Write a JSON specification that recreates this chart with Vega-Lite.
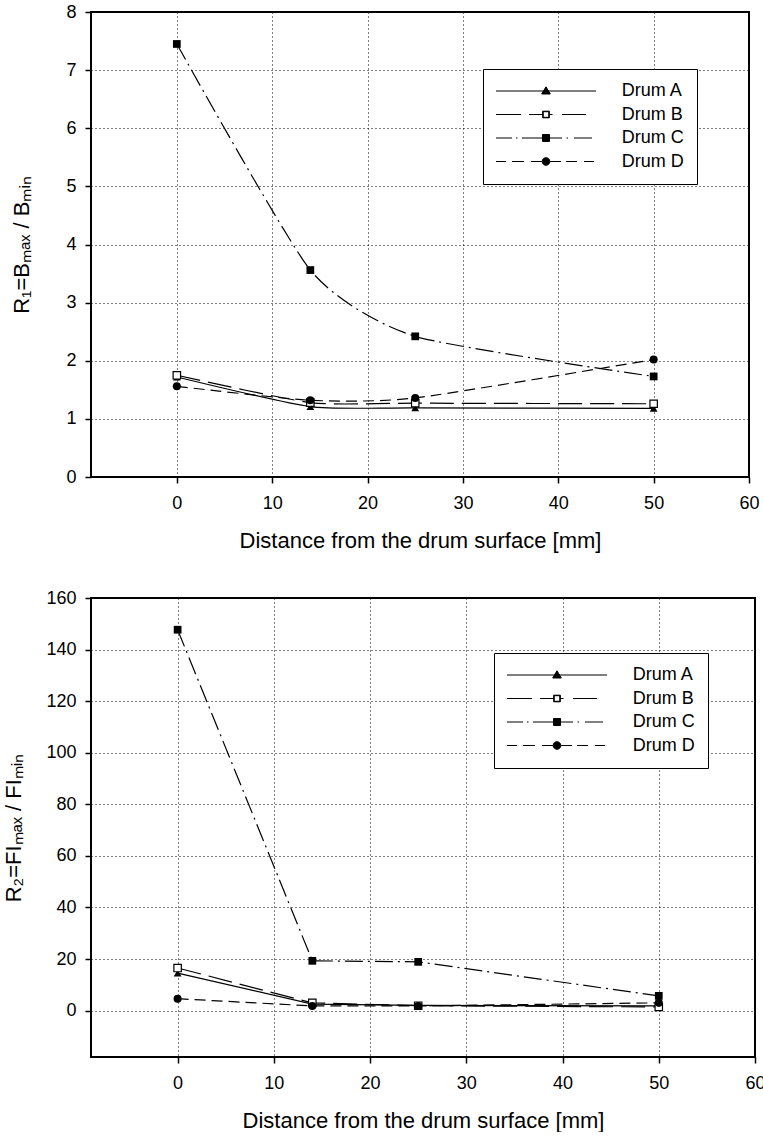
{
  "$schema": "https://vega.github.io/schema/vega-lite/v6.json",
  "padding": {"left": 1, "top": 2, "right": 0, "bottom": 0},
  "background": "white",
  "spacing": 36,
  "config": {
    "font": "Liberation Sans",
    "view": {"stroke": "black", "strokeWidth": 2},
    "axis": {
      "domain": false,
      "grid": true,
      "gridColor": "black",
      "gridDash": [1, 3],
      "gridWidth": 1,
      "gridOpacity": 1,
      "tickColor": "black",
      "tickSize": 6,
      "tickWidth": 1.5,
      "labelColor": "black",
      "labelFont": "Liberation Sans",
      "labelFontSize": 18,
      "titleFont": "Liberation Sans",
      "titleFontSize": 22,
      "titleFontWeight": "normal",
      "titleColor": "black"
    },
    "axisX": {"labelPadding": 11, "titlePadding": 18, "labelFlush": false},
    "axisY": {"labelPadding": 9},
    "legend": {
      "symbolSize": 4,
      "symbolStrokeWidth": 1,
      "symbolStrokeColor": "black",
      "symbolFillColor": "black",
      "symbolOpacity": 1,
      "symbolOffset": 41,
      "labelOffset": 66.7,
      "labelFont": "Liberation Sans",
      "labelFontSize": 18,
      "labelColor": "black",
      "padding": 13,
      "rowPadding": 5.5,
      "strokeColor": "black",
      "fillColor": "white"
    }
  },
  "datasets": {
    "r1": [
      {"drum": "Drum A", "x": 0, "y": 1.72},
      {"drum": "Drum A", "x": 14, "y": 1.21},
      {"drum": "Drum A", "x": 25, "y": 1.19},
      {"drum": "Drum A", "x": 50, "y": 1.18},
      {"drum": "Drum B", "x": 0, "y": 1.75},
      {"drum": "Drum B", "x": 14, "y": 1.28},
      {"drum": "Drum B", "x": 25, "y": 1.27},
      {"drum": "Drum B", "x": 50, "y": 1.26},
      {"drum": "Drum C", "x": 0, "y": 7.45},
      {"drum": "Drum C", "x": 14, "y": 3.56},
      {"drum": "Drum C", "x": 25, "y": 2.42},
      {"drum": "Drum C", "x": 50, "y": 1.73},
      {"drum": "Drum D", "x": 0, "y": 1.56},
      {"drum": "Drum D", "x": 14, "y": 1.32},
      {"drum": "Drum D", "x": 25, "y": 1.36},
      {"drum": "Drum D", "x": 50, "y": 2.02}
    ],
    "r2": [
      {"drum": "Drum A", "x": 0, "y": 14.5},
      {"drum": "Drum A", "x": 14, "y": 2.5},
      {"drum": "Drum A", "x": 25, "y": 2.0},
      {"drum": "Drum A", "x": 50, "y": 1.8},
      {"drum": "Drum B", "x": 0, "y": 16.5},
      {"drum": "Drum B", "x": 14, "y": 3.0},
      {"drum": "Drum B", "x": 25, "y": 1.9},
      {"drum": "Drum B", "x": 50, "y": 1.4},
      {"drum": "Drum C", "x": 0, "y": 147.7},
      {"drum": "Drum C", "x": 14, "y": 19.3},
      {"drum": "Drum C", "x": 25, "y": 18.9},
      {"drum": "Drum C", "x": 50, "y": 5.7},
      {"drum": "Drum D", "x": 0, "y": 4.6},
      {"drum": "Drum D", "x": 14, "y": 1.8},
      {"drum": "Drum D", "x": 25, "y": 1.8},
      {"drum": "Drum D", "x": 50, "y": 3.0}
    ]
  },
  "vconcat": [
    {
      "width": 658,
      "height": 465,
      "data": {"name": "r1"},
      "encoding": {
        "x": {"field": "x", "type": "quantitative", "scale": {"domain": [-9, 60], "nice": false, "zero": false}, "axis": {"values": [0, 10, 20, 30, 40, 50, 60], "title": "Distance from the drum surface [mm]"}},
        "y": {"field": "y", "type": "quantitative", "scale": {"domain": [0, 8], "nice": false}, "axis": {"values": [0, 1, 2, 3, 4, 5, 6, 7, 8], "title": "R₁=Bₘₐₓ / Bₘᵢₙ", "titlePadding": 32}}
      },
      "layer": [
        {"transform": [{"filter": "datum.drum == 'Drum A'"}], "mark": {"type": "line", "interpolate": "cardinal", "tension": 0.4, "color": "black", "strokeWidth": 1.2}},
        {"transform": [{"filter": "datum.drum == 'Drum B'"}], "mark": {"type": "line", "interpolate": "cardinal", "tension": 0.4, "color": "black", "strokeWidth": 1.2, "strokeDash": [24, 8]}},
        {"transform": [{"filter": "datum.drum == 'Drum C'"}], "mark": {"type": "line", "interpolate": "cardinal", "tension": 0.4, "color": "black", "strokeWidth": 1.2, "strokeDash": [18, 5, 2, 5]}},
        {"transform": [{"filter": "datum.drum == 'Drum D'"}], "mark": {"type": "line", "interpolate": "cardinal", "tension": 0.4, "color": "black", "strokeWidth": 1.2, "strokeDash": [11, 6]}},
        {"mark": {"type": "point", "opacity": 0, "color": "black", "filled": true},
         "encoding": {"shape": {"field": "drum", "type": "nominal",
           "scale": {"domain": ["Drum A", "Drum B", "Drum C", "Drum D"], "range": [
             "M-50,0H50M0,-4.2L4.3,3L-4.3,3Z",
             "M-50,0H-25M-17,0H-3.3M3.3,0H6.5M16,0H40M-3.3,-3.3H3.3V3.3H-3.3ZM-2.8,-2.8V2.8H2.8V-2.8Z",
             "M-50,0H-34M-30,0H-28.5M-24,0H-3.5M3.5,0H16M20.5,0H22M28,0H46M-3.5,-3.5H3.5V3.5H-3.5Z",
             "M-50,0H-40M-34,0H-22M-15,0H-4M4,0H15M20,0H31M38,0H48M-3.8,0A3.8,3.8,0,1,0,3.8,0A3.8,3.8,0,1,0,-3.8,0Z"
           ]},
           "legend": {"title": null, "orient": "none", "legendX": 392, "legendY": 57,
             "encoding": {"symbols": {"stroke": {"value": "black"}, "strokeWidth": {"value": 1}, "fill": {"value": "black"}, "opacity": {"value": 1}}}}}}},
        {"transform": [{"filter": "datum.drum == 'Drum A'"}], "mark": {"type": "point", "shape": "triangle-up", "filled": true, "color": "black", "opacity": 1, "size": 60}},
        {"transform": [{"filter": "datum.drum == 'Drum B'"}], "mark": {"type": "point", "shape": "square", "fill": "white", "stroke": "black", "strokeWidth": 1.2, "opacity": 1, "size": 55}},
        {"transform": [{"filter": "datum.drum == 'Drum C'"}], "mark": {"type": "point", "shape": "square", "filled": true, "color": "black", "opacity": 1, "size": 60}},
        {"transform": [{"filter": "datum.drum == 'Drum D'"}], "mark": {"type": "point", "shape": "circle", "filled": true, "color": "black", "opacity": 1, "size": 65}}
      ]
    },
    {
      "width": 664,
      "height": 459,
      "data": {"name": "r2"},
      "encoding": {
        "x": {"field": "x", "type": "quantitative", "scale": {"domain": [-9, 60], "nice": false, "zero": false}, "axis": {"values": [0, 10, 20, 30, 40, 50, 60], "title": "Distance from the drum surface [mm]"}},
        "y": {"field": "y", "type": "quantitative", "scale": {"domain": [-18, 160], "nice": false, "zero": false}, "axis": {"values": [0, 20, 40, 60, 80, 100, 120, 140, 160], "title": "R₂=FIₘₐₓ / FIₘᵢₙ", "titlePadding": 20}}
      },
      "layer": [
        {"transform": [{"filter": "datum.drum == 'Drum A'"}], "mark": {"type": "line", "color": "black", "strokeWidth": 1.2}},
        {"transform": [{"filter": "datum.drum == 'Drum B'"}], "mark": {"type": "line", "color": "black", "strokeWidth": 1.2, "strokeDash": [24, 8]}},
        {"transform": [{"filter": "datum.drum == 'Drum C'"}], "mark": {"type": "line", "color": "black", "strokeWidth": 1.2, "strokeDash": [18, 5, 2, 5]}},
        {"transform": [{"filter": "datum.drum == 'Drum D'"}], "mark": {"type": "line", "color": "black", "strokeWidth": 1.2, "strokeDash": [11, 6]}},
        {"mark": {"type": "point", "opacity": 0, "color": "black", "filled": true},
         "encoding": {"shape": {"field": "drum", "type": "nominal",
           "scale": {"domain": ["Drum A", "Drum B", "Drum C", "Drum D"], "range": [
             "M-50,0H50M0,-4.2L4.3,3L-4.3,3Z",
             "M-50,0H-25M-17,0H-3.3M3.3,0H6.5M16,0H40M-3.3,-3.3H3.3V3.3H-3.3ZM-2.8,-2.8V2.8H2.8V-2.8Z",
             "M-50,0H-34M-30,0H-28.5M-24,0H-3.5M3.5,0H16M20.5,0H22M28,0H46M-3.5,-3.5H3.5V3.5H-3.5Z",
             "M-50,0H-40M-34,0H-22M-15,0H-4M4,0H15M20,0H31M38,0H48M-3.8,0A3.8,3.8,0,1,0,3.8,0A3.8,3.8,0,1,0,-3.8,0Z"
           ]},
           "legend": {"title": null, "orient": "none", "legendX": 403, "legendY": 55,
             "encoding": {"symbols": {"stroke": {"value": "black"}, "strokeWidth": {"value": 1}, "fill": {"value": "black"}, "opacity": {"value": 1}}}}}}},
        {"transform": [{"filter": "datum.drum == 'Drum A'"}], "mark": {"type": "point", "shape": "triangle-up", "filled": true, "color": "black", "opacity": 1, "size": 60}},
        {"transform": [{"filter": "datum.drum == 'Drum B'"}], "mark": {"type": "point", "shape": "square", "fill": "white", "stroke": "black", "strokeWidth": 1.2, "opacity": 1, "size": 55}},
        {"transform": [{"filter": "datum.drum == 'Drum C'"}], "mark": {"type": "point", "shape": "square", "filled": true, "color": "black", "opacity": 1, "size": 60}},
        {"transform": [{"filter": "datum.drum == 'Drum D'"}], "mark": {"type": "point", "shape": "circle", "filled": true, "color": "black", "opacity": 1, "size": 65}}
      ]
    }
  ],
  "resolve": {"scale": {"shape": "independent", "x": "independent", "y": "independent"}, "legend": {"shape": "independent"}}
}
